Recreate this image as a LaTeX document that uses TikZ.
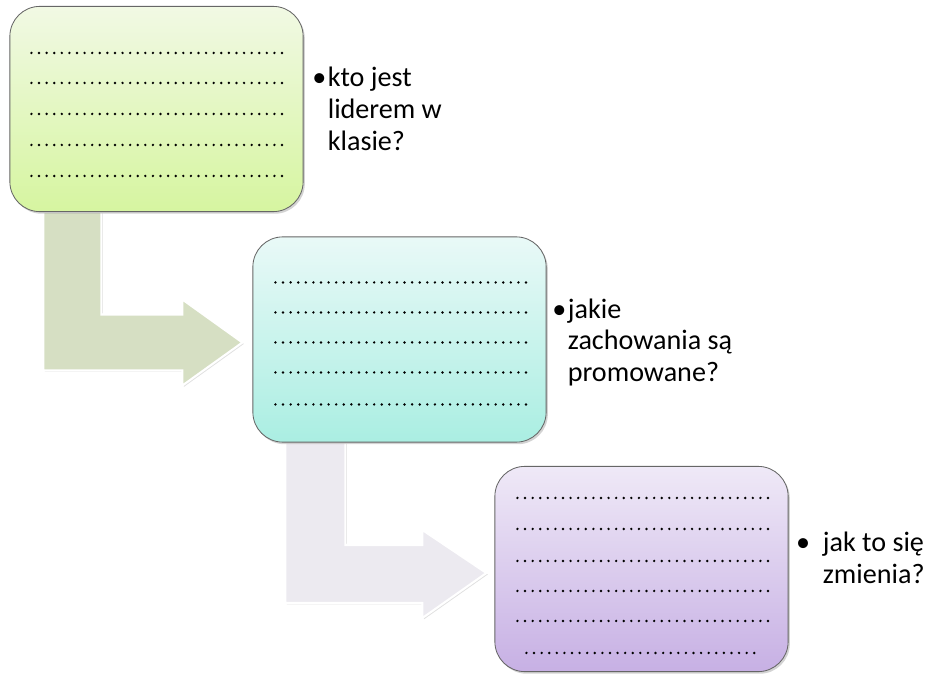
\documentclass[tikz,border=0pt]{standalone}
\usepackage{fontspec}
\setmainfont{Carlito}
\usetikzlibrary{calc,shadows}
\pgfdeclarelayer{tlo}
\pgfsetlayers{tlo,main}
\definecolor{ziel1}{RGB}{241,249,228}
\definecolor{ziel2}{RGB}{214,245,160}
\definecolor{turk1}{RGB}{233,249,247}
\definecolor{turk2}{RGB}{170,238,226}
\definecolor{fiol1}{RGB}{239,233,247}
\definecolor{fiol2}{RGB}{199,176,228}
\definecolor{oliwka}{RGB}{214,223,195}
\definecolor{szary}{RGB}{236,234,240}
\tikzset{
  pole/.style={draw=black!60, line width=0.6pt, rounded corners=0.75cm,
    minimum width=7.33cm, minimum height=5.13cm, inner sep=0pt,
    drop shadow={opacity=0.35, shadow xshift=1.2pt, shadow yshift=-1.5pt}},
  kropki/.style={line width=1.9pt, line cap=round, dash pattern=on 0pt off 5.4pt},
  strzalka/.style={draw=white, line width=1.5pt,
    drop shadow={opacity=0.25, shadow xshift=1pt, shadow yshift=-1pt}},
  opis/.style={anchor=north west, inner sep=0pt, align=left,
    font=\fontsize{20pt}{22.5pt}\selectfont}
}

\begin{document}
\begin{tikzpicture}[x=0.025cm, y=-0.025cm]
\useasboundingbox (0,0) rectangle (942,678);
% pola
\node[pole, top color=ziel1, bottom color=ziel2] (lider) at (156.5,109) {};
\node[pole, top color=turk1, bottom color=turk2] (zachowania) at (399.5,339.5) {};
\node[pole, top color=fiol1, bottom color=fiol2] (zmiana) at (641.5,569) {};
% kropki
\foreach \r in {47,77,108,139,170}
  \draw[kropki] ($(lider.north west)+(22,\r)$) -- ++(251,0);
\foreach \r in {46,76,106,136,168}
  \draw[kropki] ($(zachowania.north west)+(23,\r)$) -- ++(252,0);
\foreach \r in {32,63,95,125,155}
  \draw[kropki] ($(zmiana.north west)+(23,\r)$) -- ++(251,0);
\draw[kropki] ($(zmiana.north west)+(32,187)$) -- ++(232,0);
% opisy
\node[opis] (opis1) at ($(lider.north east)+(24,61)$) {\llap{\textbullet\hspace{1pt}}kto jest\\liderem w\\klasie?};
\node[opis] (opis2) at ($(zachowania.north east)+(21,62)$) {\llap{\textbullet\hspace{1pt}}jakie\\zachowania są\\promowane?};
\node[opis] (opis3) at ($(zmiana.north east)+(34,66)$) {\llap{\textbullet\hspace{9pt}}jak to się\\zmienia?};
% strzalki
\begin{pgfonlayer}{tlo}
\coordinate (p1) at ($(lider.south west)+(34,0)$);
\coordinate (g1) at ($(zachowania.west)+(-10,3)$);
\draw[strzalka, fill=oliwka] (p1) -- ++(58,0) |- ($(g1)+(-60,-28)$) -- ++(0,-15) -- (g1) -- ++(-60,43) -- ++(0,-15) -| (p1) -- cycle;
\coordinate (p2) at ($(zachowania.south west)+(33,0)$);
\coordinate (g2) at ($(zmiana.west)+(-8,4)$);
\draw[strzalka, fill=szary] (p2) -- ++(60,0) |- ($(g2)+(-64,-28)$) -- ++(0,-15) -- (g2) -- ++(-64,45) -- ++(0,-15) -| (p2) -- cycle;
\end{pgfonlayer}
\end{tikzpicture}
\end{document}
